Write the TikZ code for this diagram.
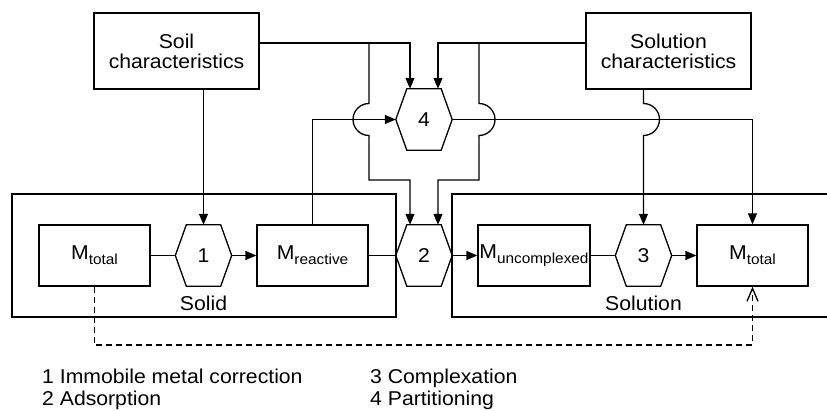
\documentclass[tikz,border=0pt]{standalone}
\usepackage{fontspec}
\setmainfont{Liberation Sans}[FakeStretch=1.06]
\usetikzlibrary{arrows.meta,calc}
% metal pool label: M with a lowered, smaller qualifier
\newcommand\poolM[1]{M\raisebox{-5pt}{\fontsize{14.5}{14.5}\selectfont #1}}
\begin{document}
\begin{tikzpicture}[x=1pt,y=1pt,
  every node/.style={font=\fontsize{20}{20}\selectfont, inner sep=0pt},
  line/.style={line width=1.3pt},
  arr/.style={line, -{Triangle[length=11pt,width=9pt]}},
  dashline/.style={line, dash pattern=on 6pt off 4pt, -{Straight Barb[length=13pt,width=11pt]}},
  box/.style={draw, line width=1.3pt, minimum width=111pt, minimum height=61pt},
  charbox/.style={draw, line width=1.3pt, minimum width=165pt, minimum height=76pt, align=center},
  phase/.style={draw, line width=1.3pt, minimum height=123pt},
  hexnode/.style={minimum width=56pt, minimum height=61pt},
  legend/.style={anchor=base west}
]
\clip (0,0) rectangle (827,410);

% phase frames
\node[phase, minimum width=384pt] (solid) at (204,154.5) {};
\node[phase, minimum width=390pt] (solution) at (647,154.5) {};
\node[anchor=base] (solidlbl) at (203.5,99.5) {Solid};
\node[anchor=base] (solutionlbl) at (643.5,99.5) {Solution};

% characteristics
\node[charbox] (soil) at (176.5,359) {Soil\\characteristics};
\node[charbox] (sol) at (668.5,359) {Solution\\characteristics};

% processes
\node[hexnode] (h4) at (424,290.5) {4};
\node[hexnode] (h1) at (203.5,154.5) {1};
\node[hexnode] (h2) at (424,154.5) {2};
\node[hexnode] (h3) at (643.5,154.5) {3};
\foreach \h in {h1,h2,h3,h4}
  \draw[line, line join=miter] (\h.west) -- ([xshift=11pt]\h.north west)
    -- ([xshift=-11pt]\h.north east) -- (\h.east)
    -- ([xshift=-11pt]\h.south east) -- ([xshift=11pt]\h.south west) -- cycle;

% metal pools
\node[box] (mtl) at (94.5,154.5) {\poolM{total}};
\node[box] (mr) at (312.5,154.5) {\poolM{reactive}};
\node[box, minimum width=112pt] (mu) at (534,154.5) {\poolM{uncomplexed}};
\node[box] (mtr) at (752.5,154.5) {\poolM{total}};

% helper points
\path ([yshift=8pt]soil.east) coordinate (soilout);
\path ([yshift=8pt]sol.west) coordinate (solout);
\coordinate (ja) at (369,290.5);
\coordinate (jb) at (479,290.5);
\coordinate (jc) at (h3.north |- h4.east);
\coordinate (bend) at (0,230);
\coordinate (dash) at (0,65);

% feeds into partitioning
\draw[arr] (soilout) -| ([xshift=-14pt]h4.north);
\draw[arr] (solout) -| ([xshift=14pt]h4.north);
\draw[arr] (mr.north) |- (h4.west);

% feeds into adsorption, hopping the crossing lines
\draw[arr] (soilout -| ja) -- ([yshift=16pt]ja)
  arc[start angle=90, end angle=270, radius=16pt]
  -- (ja |- bend) -| ([xshift=-14pt]h2.north);
\draw[arr] (solout -| jb) -- ([yshift=16pt]jb)
  arc[start angle=90, end angle=-90, radius=16pt]
  -- (jb |- bend) -| ([xshift=14pt]h2.north);

% other feeds
\draw[arr] (soil.south -| h1.north) -- (h1.north);
\draw[arr] (sol.south -| jc) -- ([yshift=16pt]jc)
  arc[start angle=90, end angle=-90, radius=16pt] -- (h3.north);
\draw[arr] (h4.east) -| (mtr.north);

% main chain
\draw[line] (mtl.east) -- (h1.west);
\draw[arr] (h1.east) -- (mr.west);
\draw[line] (mr.east) -- (h2.west);
\draw[arr] (h2.east) -- (mu.west);
\draw[line] (mu.east) -- (h3.west);
\draw[arr] (h3.east) -- (mtr.west);

% total solid to total solution
\draw[dashline] (mtl.south) -- (mtl.south |- dash) -| (mtr.south);

% legend
\node[legend] (l1) at (42,26.5) {1 Immobile metal correction};
\node[legend] (l2) at (42,4.5) {2 Adsorption};
\node[legend] (l3) at (370,26.5) {3 Complexation};
\node[legend] (l4) at (370,4.5) {4 Partitioning};
\end{tikzpicture}
\end{document}
